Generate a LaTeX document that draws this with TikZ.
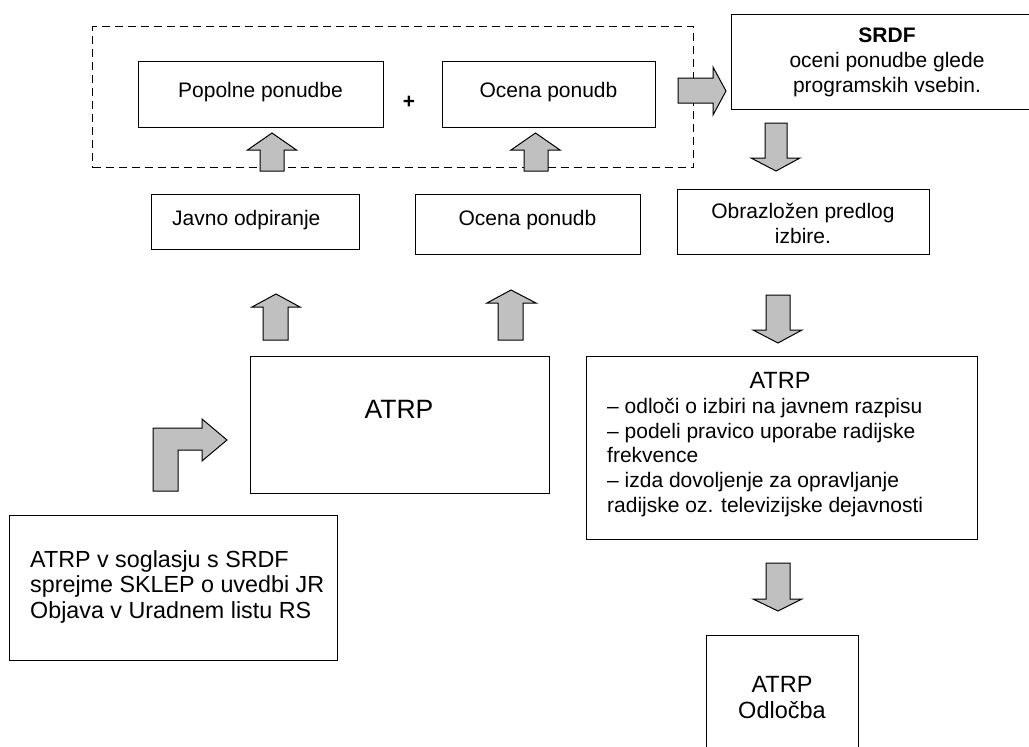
\documentclass[tikz,border=0pt]{standalone}
\usepackage{fontspec}
\setmainfont{Liberation Sans}
\usetikzlibrary{positioning}

\definecolor{arrowgrey}{RGB}{192,192,192}

\tikzset{
  box/.style={draw, line width=1.3pt, inner sep=0pt, anchor=north west},
  boxtext/.style={inner sep=0pt, anchor=base, align=center},
  listtext/.style={inner sep=0pt, anchor=base west, align=left},
  blockarrow/.style={draw, line width=1pt, fill=arrowgrey},
  group/.style={draw, line width=1.2pt, dash pattern=on 8pt off 5pt, inner sep=0pt, anchor=north west},
}

\newcommand{\normsize}{\fontsize{21}{24.6}\selectfont}
\newcommand{\bigsize}{\fontsize{23.5}{25.2}\selectfont}

\begin{document}
\begin{tikzpicture}[x=1pt, y=-1pt, font=\normsize]
  \useasboundingbox (0,0) rectangle (1029,747);

  % dashed group on top
  \node[group, minimum width=601pt, minimum height=141pt] (grp) at (92,26) {};
  \node[box, minimum width=245pt, minimum height=66pt] (popolne) at (138,61) {};
  \node[boxtext] (popolnetxt) at (260.5,97) {Popolne ponudbe};
  \node[inner sep=0pt] (plus) at (409,102) {\textbf{+}};
  \node[box, minimum width=213pt, minimum height=66pt] (ocenatop) at (442,61) {};
  \node[boxtext] (ocenatoptxt) at (548.5,97) {Ocena ponudb};

  % right column (base = last line)
  \node[box, minimum width=312pt, minimum height=95pt] (srdf) at (731,14) {};
  \node[boxtext] (srdftxt) at (887,92) {\textbf{SRDF}\\oceni ponudbe glede\\programskih vsebin.};
  \node[box, minimum width=252pt, minimum height=65pt] (predlog) at (677,189) {};
  \node[boxtext] (predlogtxt) at (803,243) {Obrazložen predlog\\izbire.};
  \node[box, minimum width=391pt, minimum height=183pt] (odloci) at (586,356) {};
  \node[boxtext, font=\bigsize] (odlocititle) at (780,388) {ATRP};
  \node[listtext] (odlocitxt) at (607,512) {– odloči o izbiri na javnem razpisu\\– podeli pravico uporabe radijske\\frekvence\\– izda dovoljenje za opravljanje\\radijske oz. televizijske dejavnosti};
  \node[box, minimum width=152pt, minimum height=140pt] (odlocba) at (706,635) {};
  \node[boxtext, font=\bigsize] (odlocbatxt) at (782,718) {ATRP\\Odločba};

  % middle row
  \node[box, minimum width=208pt, minimum height=55pt] (javno) at (151,194) {};
  \node[listtext] (javnotxt) at (172,225) {Javno odpiranje};
  \node[box, minimum width=225pt, minimum height=60pt] (ocenamid) at (415,194) {};
  \node[boxtext] (ocenamidtxt) at (527.5,225) {Ocena ponudb};
  \node[box, minimum width=299pt, minimum height=137pt] (atrp) at (250,356) {};
  \node[boxtext, font=\fontsize{26.5}{30}\selectfont] (atrptxt) at (399,418) {ATRP};

  % start
  \node[box, minimum width=328pt, minimum height=145pt] (sklep) at (9,515) {};
  \node[listtext, font=\fontsize{23.3}{25.5}\selectfont] (skleptxt) at (30,618) {ATRP v soglasju s SRDF\\sprejme SKLEP o uvedbi JR\\Objava v Uradnem listu RS};

  % block arrows
  \draw[blockarrow] (153,491) -- (153,428) -- (202,428) -- (202,419) -- (227,440) -- (202,461) -- (202,450) -- (178,450) -- (178,491) -- cycle;
  \draw[blockarrow] (263,340) -- (263,307) -- (252,307) -- (276,294) -- (300,307) -- (288,307) -- (288,340) -- cycle;
  \draw[blockarrow] (498,340) -- (498,303) -- (487,303) -- (511,290) -- (536,303) -- (523,303) -- (523,340) -- cycle;
  \draw[blockarrow] (260,171) -- (260,150) -- (247.5,150) -- (272,133) -- (296.5,150) -- (284,150) -- (284,171) -- cycle;
  \draw[blockarrow] (524,171) -- (524,150) -- (511,150) -- (535.5,133) -- (560,150) -- (548,150) -- (548,171) -- cycle;
  \draw[blockarrow] (678,78) -- (713,78) -- (713,67) -- (726,91) -- (713,115) -- (713,103) -- (678,103) -- cycle;
  \draw[blockarrow] (765,123) -- (787,123) -- (787,158) -- (800,158) -- (776,171) -- (751,158) -- (765,158) -- cycle;
  \draw[blockarrow] (766,295) -- (790,295) -- (790,330) -- (802,330) -- (778,343) -- (753,330) -- (766,330) -- cycle;
  \draw[blockarrow] (766,563) -- (790,563) -- (790,599) -- (802,599) -- (778,611) -- (753,599) -- (766,599) -- cycle;
\end{tikzpicture}
\end{document}
